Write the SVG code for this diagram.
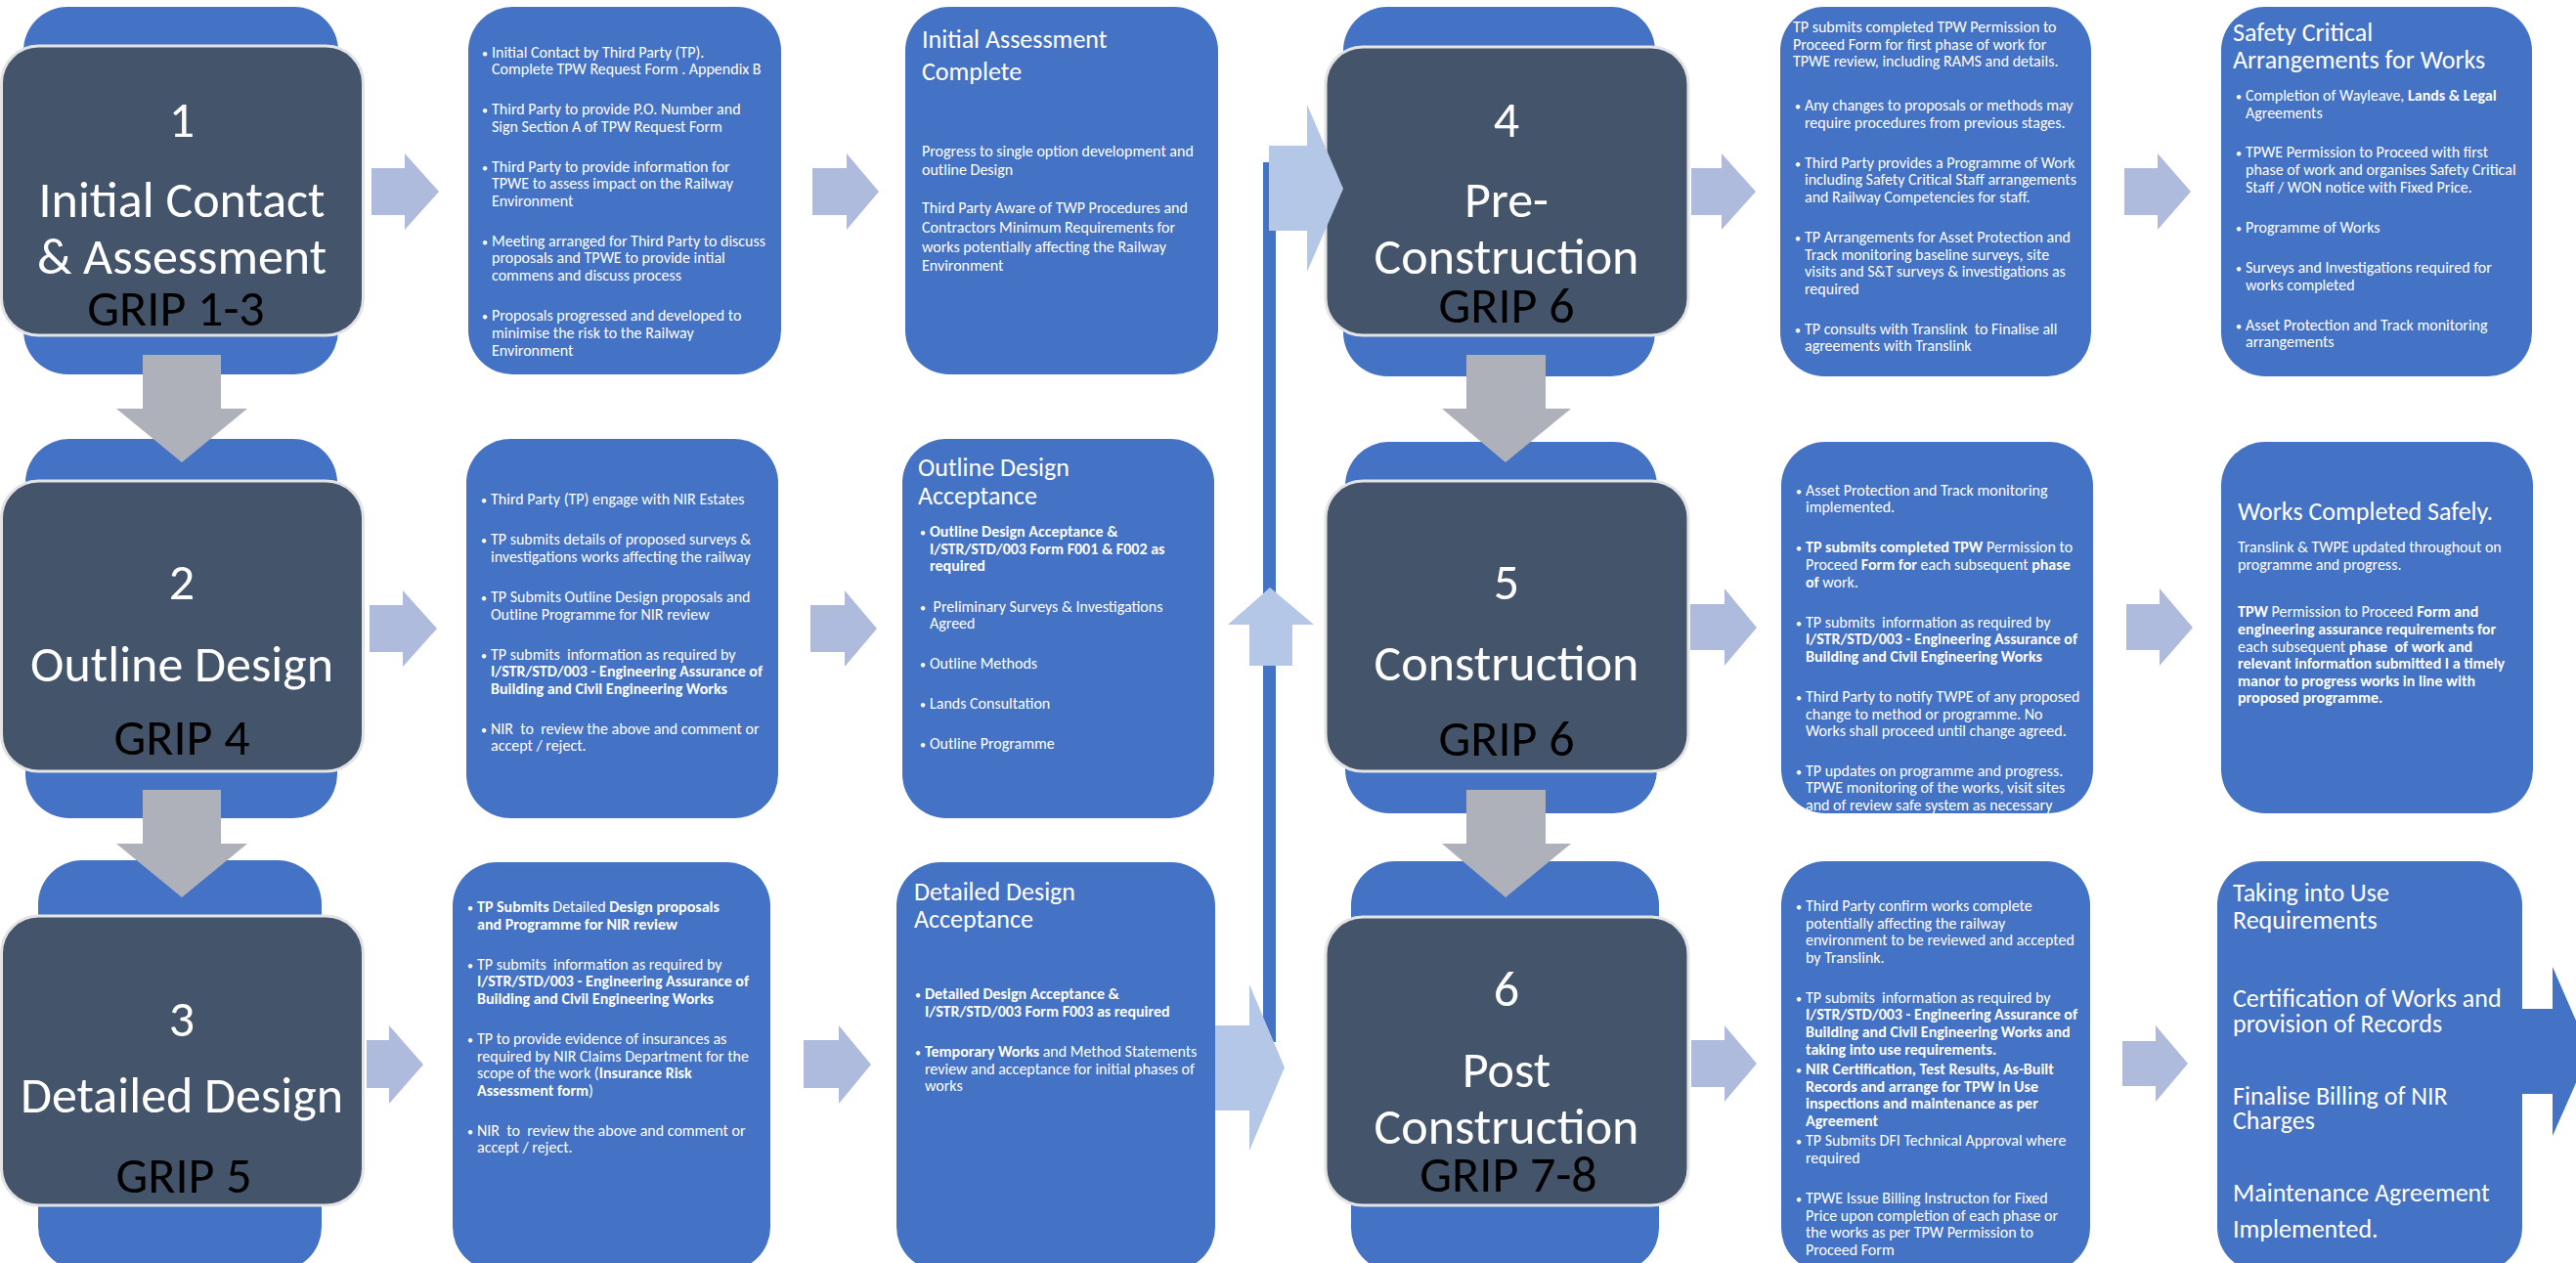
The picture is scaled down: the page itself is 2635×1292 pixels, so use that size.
<svg xmlns="http://www.w3.org/2000/svg" width="2635" height="1292" viewBox="0 0 2635 1292">
<style>
text{font-family:Carlito,Lato,"Liberation Sans",sans-serif;white-space:pre}
.bx{fill:#4472C4}
.dk{fill:#44546A;stroke:#E4E4E6;stroke-width:3}
.t{fill:#fff;font-size:16px}
.u{font-size:12px}
.b{font-weight:bold}
.h{fill:#fff;font-size:26px;font-weight:300}
.n{fill:#fff;font-size:52px;font-weight:300;text-anchor:middle}
.g{fill:#000;font-size:52px;text-anchor:middle}
.ar{fill:#AFBBDD}
.cn{fill:#B4C7E7}
.gr{fill:#AEB1B9}
.ln{fill:#4472C4}
</style>
<defs>
<clipPath id="c5"><rect x="1822" y="452" width="319" height="380" rx="45"/></clipPath>
</defs>
<rect width="2635" height="1292" fill="#fff"/>

<g id="connectors">
<rect class="ln" x="1292" y="166" width="13" height="900"/>
<polygon class="ar" points="380,172 414,172 414,157 449,196 414,235 414,220 380,220"/>
<polygon class="ar" points="831,172 866,172 866,157 899,196 866,235 866,220 831,220"/>
<polygon class="ar" points="1730,172 1761,172 1761,157 1796,196 1761,235 1761,220 1730,220"/>
<polygon class="ar" points="2173,172 2207,172 2207,157 2241,196 2207,235 2207,220 2173,220"/>
<polygon class="ar" points="378,619 412,619 412,604 447,643 412,682 412,667 378,667"/>
<polygon class="ar" points="829,619 864,619 864,604 897,643 864,682 864,667 829,667"/>
<polygon class="ar" points="1729,618 1764,618 1764,602 1797,642 1764,681 1764,665 1729,665"/>
<polygon class="ar" points="2175,618 2209,618 2209,602 2243,642 2209,681 2209,665 2175,665"/>
<polygon class="ar" points="375,1064 398,1064 398,1049 433,1089 398,1129 398,1113 375,1113"/>
<polygon class="ar" points="822,1064 858,1064 858,1049 891,1089 858,1129 858,1113 822,1113"/>
<polygon class="ar" points="1730,1064 1764,1064 1764,1049 1797,1088 1764,1127 1764,1112 1730,1112"/>
<polygon class="ar" points="2171,1065 2205,1065 2205,1049 2238,1088 2205,1127 2205,1111 2171,1111"/>
<polygon class="cn" points="1278,681 1278,639 1256,639 1299,601 1344,639 1322,639 1322,681"/>
<polygon class="cn" points="1239,1049 1278,1049 1278,1007 1314,1092 1278,1177 1278,1136 1239,1136"/>
</g>

<g id="node1">
<rect class="bx" x="24" y="7" width="322" height="376" rx="45"/>
<rect class="dk" x="1.5" y="47" width="370" height="296" rx="38"/>
<text class="n" x="186" y="140">1</text>
<text class="n" x="186" y="222">Initial Contact</text>
<text class="n" x="186" y="280">&amp; Assessment</text>
<text class="g" x="180" y="333">GRIP 1-3</text>
</g>

<g id="box1">
<rect class="bx" x="479" y="7" width="320" height="376" rx="45"/>
<text class="t" y="59"><tspan class="u" x="493">•</tspan><tspan x="503">Initial Contact by Third Party (TP).</tspan></text>
<text class="t" x="503" y="76">Complete TPW Request Form . Appendix B</text>
<text class="t" y="117"><tspan class="u" x="493">•</tspan><tspan x="503">Third Party to provide P.O. Number and</tspan></text>
<text class="t" x="503" y="135">Sign Section A of TPW Request Form</text>
<text class="t" y="176"><tspan class="u" x="493">•</tspan><tspan x="503">Third Party to provide information for</tspan></text>
<text class="t" x="503" y="193">TPWE to assess impact on the Railway</text>
<text class="t" x="503" y="211">Environment</text>
<text class="t" y="252"><tspan class="u" x="493">•</tspan><tspan x="503">Meeting arranged for Third Party to discuss</tspan></text>
<text class="t" x="503" y="269">proposals and TPWE to provide intial</text>
<text class="t" x="503" y="287">commens and discuss process</text>
<text class="t" y="328"><tspan class="u" x="493">•</tspan><tspan x="503">Proposals progressed and developed to</tspan></text>
<text class="t" x="503" y="346">minimise the risk to the Railway</text>
<text class="t" x="503" y="364">Environment</text>
</g>

<g id="box-initial-assessment">
<rect class="bx" x="926" y="7" width="320" height="376" rx="45"/>
<text class="h" x="943" y="49">Initial Assessment</text>
<text class="h" x="943" y="82">Complete</text>
<text class="t" x="943" y="160">Progress to single option development and</text>
<text class="t" x="943" y="179">outline Design</text>
<text class="t" x="943" y="218">Third Party Aware of TWP Procedures and</text>
<text class="t" x="943" y="238">Contractors Minimum Requirements for</text>
<text class="t" x="943" y="258">works potentially affecting the Railway</text>
<text class="t" x="943" y="277">Environment</text>
</g>

<g id="node4">
<rect class="bx" x="1374" y="7" width="319" height="378" rx="45"/>
<rect class="dk" x="1356" y="48" width="371" height="295" rx="38"/>
<text class="n" x="1541" y="140">4</text>
<text class="n" x="1541" y="222">Pre-</text>
<text class="n" x="1541" y="280">Construction</text>
<text class="g" x="1541" y="330">GRIP 6</text>
</g>
<polygon class="cn" points="1298,149 1337,149 1337,107 1374,193 1337,278 1337,236 1298,236"/>

<g id="box4">
<rect class="bx" x="1821" y="7" width="318" height="378" rx="45"/>
<text class="t" x="1834" y="33">TP submits completed TPW Permission to</text>
<text class="t" x="1834" y="51">Proceed Form for first phase of work for</text>
<text class="t" x="1834" y="68">TPWE review, including RAMS and details.</text>
<text class="t" y="113"><tspan class="u" x="1836">•</tspan><tspan x="1846">Any changes to proposals or methods may</tspan></text>
<text class="t" x="1846" y="131">require procedures from previous stages.</text>
<text class="t" y="172"><tspan class="u" x="1836">•</tspan><tspan x="1846">Third Party provides a Programme of Work</tspan></text>
<text class="t" x="1846" y="189">including Safety Critical Staff arrangements</text>
<text class="t" x="1846" y="207">and Railway Competencies for staff.</text>
<text class="t" y="248"><tspan class="u" x="1836">•</tspan><tspan x="1846">TP Arrangements for Asset Protection and</tspan></text>
<text class="t" x="1846" y="266">Track monitoring baseline surveys, site</text>
<text class="t" x="1846" y="283">visits and S&amp;T surveys &amp; investigations as</text>
<text class="t" x="1846" y="301">required</text>
<text class="t" y="342"><tspan class="u" x="1836">•</tspan><tspan x="1846">TP consults with Translink  to Finalise all</tspan></text>
<text class="t" x="1846" y="359">agreements with Translink</text>
</g>

<g id="box-safety">
<rect class="bx" x="2272" y="7" width="318" height="378" rx="45"/>
<text class="h" x="2284" y="42">Safety Critical</text>
<text class="h" x="2284" y="70">Arrangements for Works</text>
<text class="t" y="103"><tspan class="u" x="2287">•</tspan><tspan x="2297">Completion of Wayleave, </tspan><tspan class="b">Lands &amp; Legal</tspan></text>
<text class="t" x="2297" y="121">Agreements</text>
<text class="t" y="161"><tspan class="u" x="2287">•</tspan><tspan x="2297">TPWE Permission to Proceed with first</tspan></text>
<text class="t" x="2297" y="179">phase of work and organises Safety Critical</text>
<text class="t" x="2297" y="197">Staff / WON notice with Fixed Price.</text>
<text class="t" y="238"><tspan class="u" x="2287">•</tspan><tspan x="2297">Programme of Works</tspan></text>
<text class="t" y="279"><tspan class="u" x="2287">•</tspan><tspan x="2297">Surveys and Investigations required for</tspan></text>
<text class="t" x="2297" y="297">works completed</text>
<text class="t" y="338"><tspan class="u" x="2287">•</tspan><tspan x="2297">Asset Protection and Track monitoring</tspan></text>
<text class="t" x="2297" y="355">arrangements</text>
</g>

<g id="node2">
<rect class="bx" x="26" y="449" width="319" height="388" rx="45"/>
<rect class="dk" x="1.5" y="492" width="370" height="297" rx="38"/>
<text class="n" x="186" y="613">2</text>
<text class="n" x="186" y="697">Outline Design</text>
<text class="g" x="186" y="772">GRIP 4</text>
</g>

<g id="box2">
<rect class="bx" x="477" y="449" width="319" height="388" rx="45"/>
<text class="t" y="516"><tspan class="u" x="492">•</tspan><tspan x="502">Third Party (TP) engage with NIR Estates</tspan></text>
<text class="t" y="557"><tspan class="u" x="492">•</tspan><tspan x="502">TP submits details of proposed surveys &amp;</tspan></text>
<text class="t" x="502" y="575">investigations works affecting the railway</text>
<text class="t" y="616"><tspan class="u" x="492">•</tspan><tspan x="502">TP Submits Outline Design proposals and</tspan></text>
<text class="t" x="502" y="634">Outline Programme for NIR review</text>
<text class="t" y="675"><tspan class="u" x="492">•</tspan><tspan x="502">TP submits  information as required by</tspan></text>
<text class="t b" x="502" y="692">I/STR/STD/003 - Engineering Assurance of</text>
<text class="t b" x="502" y="710">Building and Civil Engineering Works</text>
<text class="t" y="751"><tspan class="u" x="492">•</tspan><tspan x="502">NIR  to  review the above and comment or</tspan></text>
<text class="t" x="502" y="768">accept / reject.</text>
</g>

<g id="box-outline-acceptance">
<rect class="bx" x="923" y="449" width="319" height="388" rx="45"/>
<text class="h" x="939" y="487">Outline Design</text>
<text class="h" x="939" y="516">Acceptance</text>
<text class="t" y="549"><tspan class="u" x="941">•</tspan><tspan class="b" x="951">Outline Design Acceptance &amp;</tspan></text>
<text class="t b" x="951" y="567">I/STR/STD/003 Form F001 &amp; F002 as</text>
<text class="t b" x="951" y="584">required</text>
<text class="t" y="626"><tspan class="u" x="941">•</tspan><tspan x="951"> Preliminary Surveys &amp; Investigations</tspan></text>
<text class="t" x="951" y="643">Agreed</text>
<text class="t" y="684"><tspan class="u" x="941">•</tspan><tspan x="951">Outline Methods</tspan></text>
<text class="t" y="725"><tspan class="u" x="941">•</tspan><tspan x="951">Lands Consultation</tspan></text>
<text class="t" y="766"><tspan class="u" x="941">•</tspan><tspan x="951">Outline Programme</tspan></text>
</g>

<g id="node5">
<rect class="bx" x="1376" y="452" width="319" height="380" rx="45"/>
<rect class="dk" x="1356" y="492" width="371" height="297" rx="38"/>
<text class="n" x="1541" y="613">5</text>
<text class="n" x="1541" y="696">Construction</text>
<text class="g" x="1541" y="773">GRIP 6</text>
</g>

<g id="box5">
<rect class="bx" x="1822" y="452" width="319" height="380" rx="45"/>
<g clip-path="url(#c5)">
<text class="t" y="507"><tspan class="u" x="1837">•</tspan><tspan x="1847">Asset Protection and Track monitoring</tspan></text>
<text class="t" x="1847" y="524">implemented.</text>
<text class="t" y="565"><tspan class="u" x="1837">•</tspan><tspan class="b" x="1847">TP submits completed TPW</tspan><tspan> Permission to</tspan></text>
<text class="t" x="1847" y="583">Proceed <tspan class="b">Form for</tspan> each subsequent <tspan class="b">phase</tspan></text>
<text class="t" x="1847" y="601"><tspan class="b">of</tspan> work.</text>
<text class="t" y="642"><tspan class="u" x="1837">•</tspan><tspan x="1847">TP submits  information as required by</tspan></text>
<text class="t b" x="1847" y="659">I/STR/STD/003 - Engineering Assurance of</text>
<text class="t b" x="1847" y="677">Building and Civil Engineering Works</text>
<text class="t" y="718"><tspan class="u" x="1837">•</tspan><tspan x="1847">Third Party to notify TWPE of any proposed</tspan></text>
<text class="t" x="1847" y="736">change to method or programme. No</text>
<text class="t" x="1847" y="753">Works shall proceed until change agreed.</text>
<text class="t" y="794"><tspan class="u" x="1837">•</tspan><tspan x="1847">TP updates on programme and progress.</tspan></text>
<text class="t" x="1847" y="811">TPWE monitoring of the works, visit sites</text>
<text class="t" x="1847" y="829">and of review safe system as necessary</text>
</g>
</g>

<g id="box-works-completed">
<rect class="bx" x="2272" y="452" width="319" height="380" rx="45"/>
<text class="h" x="2289" y="532">Works Completed Safely.</text>
<text class="t" x="2289" y="565">Translink &amp; TWPE updated throughout on</text>
<text class="t" x="2289" y="583">programme and progress.</text>
<text class="t" x="2289" y="631"><tspan class="b">TPW</tspan> Permission to Proceed <tspan class="b">Form and</tspan></text>
<text class="t b" x="2289" y="649">engineering assurance requirements for</text>
<text class="t" x="2289" y="667">each subsequent <tspan class="b">phase  of work and</tspan></text>
<text class="t b" x="2289" y="684">relevant information submitted I a timely</text>
<text class="t b" x="2289" y="702">manor to progress works in line with</text>
<text class="t b" x="2289" y="719">proposed programme.</text>
</g>

<g id="node3">
<rect class="bx" x="39" y="880" width="290" height="420" rx="45"/>
<rect class="dk" x="1.5" y="937" width="370" height="296" rx="38"/>
<text class="n" x="186" y="1060">3</text>
<text class="n" x="186" y="1138">Detailed Design</text>
<text class="g" x="188" y="1220">GRIP 5</text>
</g>

<g id="box3">
<rect class="bx" x="463" y="882" width="325" height="418" rx="45"/>
<text class="t" y="933"><tspan class="u" x="478">•</tspan><tspan class="b" x="488">TP Submits</tspan><tspan> Detailed </tspan><tspan class="b">Design proposals</tspan></text>
<text class="t b" x="488" y="951">and Programme for NIR review</text>
<text class="t" y="992"><tspan class="u" x="478">•</tspan><tspan x="488">TP submits  information as required by</tspan></text>
<text class="t b" x="488" y="1009">I/STR/STD/003 - Engineering Assurance of</text>
<text class="t b" x="488" y="1027">Building and Civil Engineering Works</text>
<text class="t" y="1068"><tspan class="u" x="478">•</tspan><tspan x="488">TP to provide evidence of insurances as</tspan></text>
<text class="t" x="488" y="1086">required by NIR Claims Department for the</text>
<text class="t" x="488" y="1103">scope of the work (<tspan class="b">Insurance Risk</tspan></text>
<text class="t" x="488" y="1121"><tspan class="b">Assessment form</tspan>)</text>
<text class="t" y="1162"><tspan class="u" x="478">•</tspan><tspan x="488">NIR  to  review the above and comment or</tspan></text>
<text class="t" x="488" y="1179">accept / reject.</text>
</g>

<g id="box-detailed-acceptance">
<rect class="bx" x="917" y="882" width="326" height="418" rx="45"/>
<text class="h" x="935" y="921">Detailed <tspan font-weight="400">Design</tspan></text>
<text class="h" x="935" y="949" font-weight="400">Acceptance</text>
<text class="t" y="1022"><tspan class="u" x="936">•</tspan><tspan class="b" x="946">Detailed Design Acceptance &amp;</tspan></text>
<text class="t b" x="946" y="1040">I/STR/STD/003 Form F003 as required</text>
<text class="t" y="1081"><tspan class="u" x="936">•</tspan><tspan class="b" x="946">Temporary Works</tspan><tspan> and Method Statements</tspan></text>
<text class="t" x="946" y="1099">review and acceptance for initial phases of</text>
<text class="t" x="946" y="1116">works</text>
</g>

<g id="node6">
<rect class="bx" x="1382" y="881" width="315" height="420" rx="45"/>
<rect class="dk" x="1356" y="938" width="371" height="295" rx="38"/>
<text class="n" x="1541" y="1029">6</text>
<text class="n" x="1541" y="1112">Post</text>
<text class="n" x="1541" y="1170">Construction</text>
<text class="g" x="1543" y="1219">GRIP 7-8</text>
</g>

<g id="box6">
<rect class="bx" x="1822" y="881" width="316" height="420" rx="45"/>
<text class="t" y="932"><tspan class="u" x="1837">•</tspan><tspan x="1847">Third Party confirm works complete</tspan></text>
<text class="t" x="1847" y="950">potentially affecting the railway</text>
<text class="t" x="1847" y="967">environment to be reviewed and accepted</text>
<text class="t" x="1847" y="985">by Translink.</text>
<text class="t" y="1026"><tspan class="u" x="1837">•</tspan><tspan x="1847">TP submits  information as required by</tspan></text>
<text class="t b" x="1847" y="1043">I/STR/STD/003 - Engineering Assurance of</text>
<text class="t b" x="1847" y="1061">Building and Civil Engineering Works and</text>
<text class="t b" x="1847" y="1079">taking into use requirements.</text>
<text class="t" y="1099"><tspan class="u" x="1837">•</tspan><tspan class="b" x="1847">NIR Certification, Test Results, As-Built</tspan></text>
<text class="t b" x="1847" y="1117">Records and arrange for TPW In Use</text>
<text class="t b" x="1847" y="1134">inspections and maintenance as per</text>
<text class="t b" x="1847" y="1152">Agreement</text>
<text class="t" y="1172"><tspan class="u" x="1837">•</tspan><tspan x="1847">TP Submits DFI Technical Approval where</tspan></text>
<text class="t" x="1847" y="1190">required</text>
<text class="t" y="1231"><tspan class="u" x="1837">•</tspan><tspan x="1847">TPWE Issue Billing Instructon for Fixed</tspan></text>
<text class="t" x="1847" y="1249">Price upon completion of each phase or</text>
<text class="t" x="1847" y="1266">the works as per TPW Permission to</text>
<text class="t" x="1847" y="1284">Proceed Form</text>
</g>

<g id="box-taking-into-use">
<rect class="bx" x="2268" y="881" width="312" height="420" rx="45"/>
<text class="h" x="2284" y="922">Taking into Use</text>
<text class="h" x="2284" y="950">Requirements</text>
<text class="h" x="2284" y="1030">Certification of Works and</text>
<text class="h" x="2284" y="1056">provision of Records</text>
<text class="h" x="2284" y="1130">Finalise Billing of NIR</text>
<text class="h" x="2284" y="1155">Charges</text>
<text class="h" x="2284" y="1229">Maintenance Agreement</text>
<text class="h" x="2284" y="1266">Implemented.</text>
</g>

<g id="connectors-top">
<polygon class="gr" points="146,363 226,363 226,418 253,418 186,473 119,418 146,418"/>
<polygon class="gr" points="146,808 226,808 226,863 253,863 186,918 119,863 146,863"/>
<polygon class="gr" points="1500,363 1581,363 1581,418 1607,418 1540,473 1475,418 1500,418"/>
<polygon class="gr" points="1500,808 1581,808 1581,863 1607,863 1540,918 1475,863 1500,863"/>
<polygon class="ln" points="2578,1032 2611,1032 2611,989 2649,1076 2611,1162 2611,1119 2578,1119"/>
</g>
</svg>
